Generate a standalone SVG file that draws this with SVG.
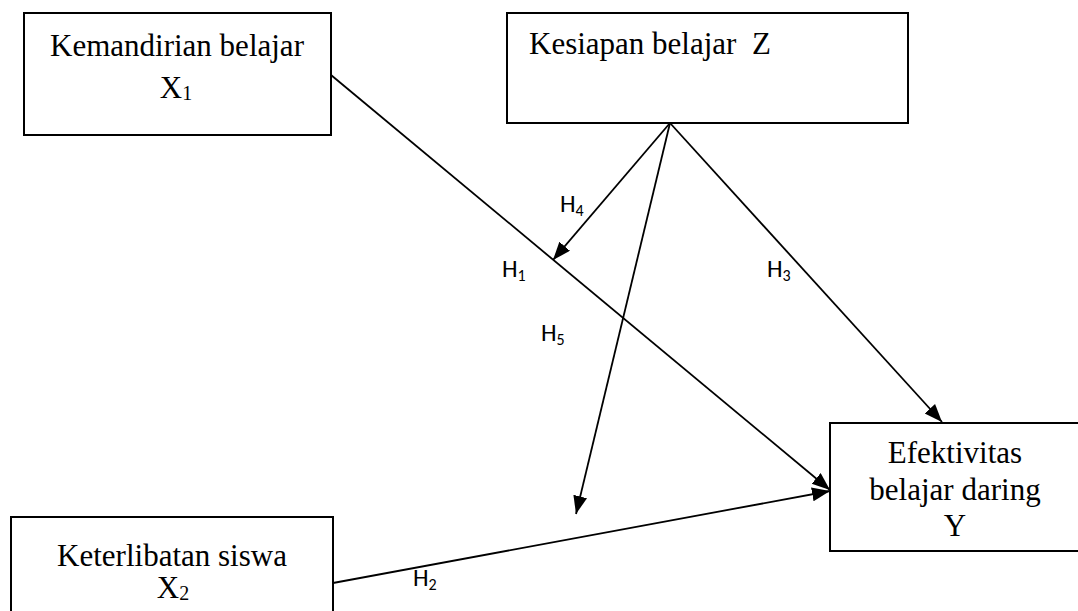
<svg xmlns="http://www.w3.org/2000/svg" width="1078" height="611" viewBox="0 0 1078 611">
<style>
.box{fill:#fff;stroke:#000;stroke-width:2}
.t{font-family:"Liberation Serif","Times New Roman",serif;font-size:31px;fill:#000}
.sub{font-size:20px}
.h{font-family:"Carlito","Liberation Sans",Arial,sans-serif;font-size:25px;fill:#000}
.hs{font-size:16px}
.c{stroke:#000;stroke-width:1.8;fill:none}
</style>
<defs>
<marker id="ah" markerUnits="userSpaceOnUse" markerWidth="20" markerHeight="16" refX="18" refY="7" orient="auto">
<path d="M0,0 L18,7 L0,14 z" fill="#000"/>
</marker>
</defs>
<rect width="1078" height="611" fill="#fff"/>
<g id="x1">
<rect class="box" x="24" y="13" width="307" height="122"/>
<text class="t" x="177" y="56" text-anchor="middle">Kemandirian belajar</text>
<text class="t" x="176" y="98" text-anchor="middle">X<tspan class="sub" dy="2">1</tspan></text>
</g>
<g id="z">
<rect class="box" x="507" y="13" width="401" height="110"/>
<text class="t" x="529" y="54" xml:space="preserve">Kesiapan belajar  Z</text>
</g>
<g id="x2">
<rect class="box" x="11" y="517" width="322" height="110"/>
<text class="t" x="172" y="566" text-anchor="middle">Keterlibatan siswa</text>
<text class="t" x="173" y="598" text-anchor="middle">X<tspan class="sub" dy="2">2</tspan></text>
</g>
<g id="y">
<rect class="box" x="830" y="423" width="260" height="128"/>
<text class="t" x="955" y="463" text-anchor="middle">Efektivitas</text>
<text class="t" x="955" y="500" text-anchor="middle">belajar daring</text>
<text class="t" x="955" y="536" text-anchor="middle">Y</text>
</g>
<g id="connectors">
<line class="c" x1="331" y1="75" x2="830" y2="490" marker-end="url(#ah)"/>
<line class="c" x1="333" y1="583" x2="830" y2="491" marker-end="url(#ah)"/>
<line class="c" x1="670" y1="123" x2="553" y2="260" marker-end="url(#ah)"/>
<line class="c" x1="670" y1="123" x2="576" y2="514" marker-end="url(#ah)"/>
<line class="c" x1="670" y1="123" x2="942" y2="422" marker-end="url(#ah)"/>
</g>
<g id="labels">
<text class="h" x="560" y="212">H<tspan class="hs" dy="4">4</tspan></text>
<text class="h" x="502" y="277">H<tspan class="hs" dy="4">1</tspan></text>
<text class="h" x="541" y="341">H<tspan class="hs" dy="4">5</tspan></text>
<text class="h" x="767" y="277">H<tspan class="hs" dy="4">3</tspan></text>
<text class="h" x="413" y="586">H<tspan class="hs" dy="4">2</tspan></text>
</g>
</svg>
